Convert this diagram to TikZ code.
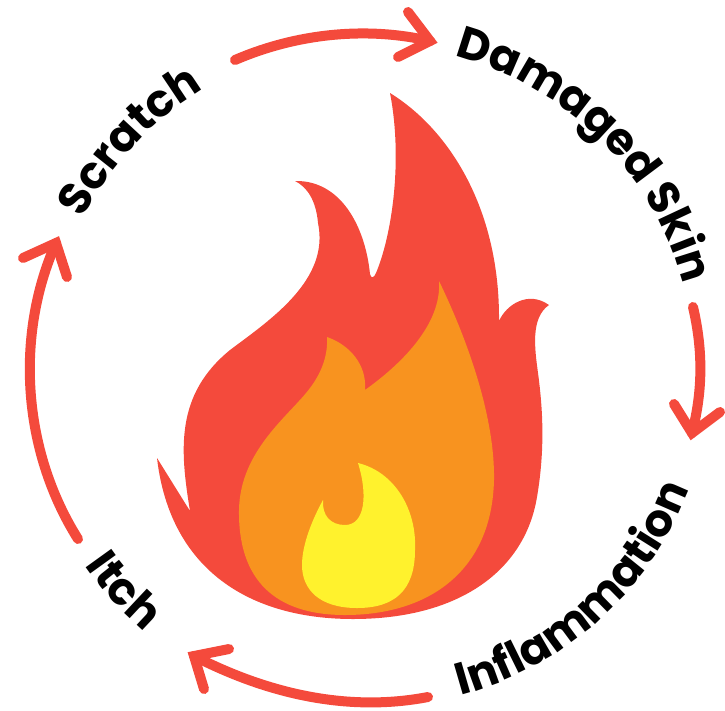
\documentclass[tikz,border=0pt]{standalone}
\usepackage{fontspec}
\setmainfont{Poppins}
\usetikzlibrary{decorations.text}
\definecolor{fred}{HTML}{F44A3C}
\definecolor{forange}{HTML}{F8931F}
\definecolor{fyellow}{HTML}{FFF22D}
\newcommand\lblfont{\fontsize{45}{45}\selectfont\bfseries}
\tikzset{
  cyc/.style={draw=fred,line width=10pt,line cap=round,line join=miter,miter limit=10},
  lbl/.style={decorate,decoration={text along path,text format delimiters={|}{|},text={|\lblfont|#1},text align=center}},
}
\begin{document}
\begin{tikzpicture}[x=1pt,y=-1pt]
\useasboundingbox (0,0) rectangle (725,710);
% flame
\fill[fred] (390,93)
  .. controls (450,130) and (500,210) .. (499,321)
  .. controls (506,305) and (528,290) .. (549,305)
  .. controls (530,318) and (535,350) .. (538,373)
  .. controls (543,410) and (545,450) .. (537,497)
  .. controls (525,570) and (460,619) .. (353,619)
  .. controls (250,619) and (170,570) .. (157,458)
  -- (190,511)
  .. controls (180,450) and (175,395) .. (230,350)
  .. controls (270,320) and (330,280) .. (318,223)
  .. controls (316,200) and (307,187) .. (295,181)
  .. controls (340,180) and (365,225) .. (370,274)
  .. controls (371,279) and (374,278) .. (376,273)
  .. controls (392,235) and (403,160) .. (390,93)
  -- cycle;
\fill[forange] (439,281)
  .. controls (470,345) and (495,420) .. (494,480)
  .. controls (492,570) and (430,615) .. (345,615)
  .. controls (275,615) and (238,580) .. (239,510)
  .. controls (240,450) and (290,415) .. (310,388)
  .. controls (322,372) and (328,355) .. (327,337)
  .. controls (350,345) and (367,365) .. (365,390)
  .. controls (400,365) and (442,325) .. (439,281)
  -- cycle;
\fill[fyellow] (358,463)
  .. controls (395,472) and (417,510) .. (415,550)
  .. controls (415,590) and (395,608) .. (357,608)
  .. controls (320,608) and (302,590) .. (302,565)
  .. controls (302,545) and (312,520) .. (323,500)
  .. controls (322,515) and (330,525) .. (345,525)
  .. controls (365,525) and (368,495) .. (358,463)
  -- cycle;
% arrows
\coordinate (a1s) at (235,60);  \coordinate (a1t) at (430,41);
\coordinate (a1u) at (408,12);  \coordinate (a1d) at (398,57);
\coordinate (a2s) at (693,307); \coordinate (a2t) at (692,433);
\coordinate (a2u) at (674,404); \coordinate (a2d) at (720,412);
\coordinate (a3s) at (428,697); \coordinate (a3t) at (194,656);
\coordinate (a3u) at (229,649); \coordinate (a3d) at (204,689);
\coordinate (a4s) at (78,539);  \coordinate (a4t) at (56,243);
\coordinate (a4u) at (23,258);  \coordinate (a4d) at (67,277);
\draw[cyc] (a1s) .. controls (300,32) and (370,27) .. (a1t);
\draw[cyc] (a1u) -- (a1t) -- (a1d);
\draw[cyc] (a2s) .. controls (703,350) and (703,390) .. (a2t);
\draw[cyc] (a2u) -- (a2t) -- (a2d);
\draw[cyc] (a3s) .. controls (350,712) and (270,695) .. (a3t);
\draw[cyc] (a3u) -- (a3t) -- (a3d);
\draw[cyc] (a4s) .. controls (22,450) and (15,335) .. (a4t);
\draw[cyc] (a4u) -- (a4t) -- (a4d);
% labels
\begin{scope}[shift={(372,367)},x=1pt,y=1pt]
\path[lbl={Damaged Skin}] (91:322) arc[start angle=91,end angle=-1,radius=322];
\path[lbl={Scratch}] (177:325) arc[start angle=177,end angle=97,radius=325];
\path[lbl={Inflammation}] (-88:340) arc[start angle=-88,end angle=-8,radius=340];
\path[lbl={Itch}] (192:349) arc[start angle=192,end angle=252,radius=349];
\end{scope}
\end{tikzpicture}
\end{document}
